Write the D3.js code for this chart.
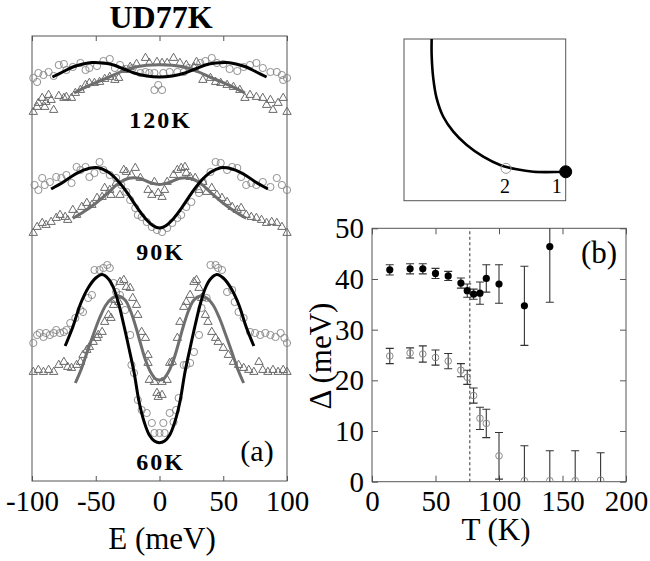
<!DOCTYPE html>
<html><head><meta charset="utf-8">
<script src="https://cdn.jsdelivr.net/npm/d3@7"></script>
<style>
body{margin:0;background:#fff}
svg{display:block}
text{font-family:"Liberation Serif","Times New Roman",serif;fill:#000}
</style>
</head><body>
<svg id="c" width="650" height="561"></svg>
<script>
// ---------------- DATA ----------------
// Panel (a): EDC-like spectra, energy E (meV) vs intensity (arb. units, offset per temperature)
const energyTicks = [-100, -50, 0, 50, 100];
const tempLabels = ["120K", "90K", "60K"];

// 120K
const circ120 = [[-99,402],[-96,398],[-95,407],[-91,405],[-87,408],[-83,404],[-79,415],[-75,416],[-73,410],[-68,413],[-62,417],[-58,410],[-55,412],[-49,414],[-44,419],[-39,421],[-35,412],[-31,415],[-26,411],[-21,412],[-15,407],[-11,408],[-8,407],[-4,407],[-4,390],[-1,395],[2,390],[3,407],[8,408],[14,408],[19,408],[23,412],[28,412],[32,417],[36,419],[41,422],[45,417],[50,416],[55,411],[61,409],[66,413],[71,415],[76,417],[81,412],[87,408],[92,408],[96,405],[97,400],[100,402]];
const tri120 = [[-99,368],[-96,373],[-95,377],[-92,382],[-90,373],[-89,378],[-87,385],[-85,380],[-83,370],[-79,384],[-75,382],[-73,383],[-69,382],[-66,387],[-62,390],[-58,395],[-55,397],[-51,397],[-47,398],[-43,401],[-39,403],[-35,400],[-32,402],[-28,410],[-23,413],[-18,416],[-11,422],[-8,417],[-2,418],[2,417],[6,417],[11,422],[16,417],[21,415],[27,413],[29,418],[34,400],[40,402],[44,398],[48,397],[53,395],[58,393],[63,390],[67,382],[71,385],[76,383],[81,382],[84,375],[87,380],[89,370],[93,377],[97,382],[100,368]];
const fitBlack120 = [[-84,403],[-76,408],[-68,413],[-60,416],[-53,417.5],[-44,417],[-36,415],[-28,411],[-20,407],[-10,404],[0,403],[10,404],[20,407],[28,411],[36,415],[44,417],[53,417.5],[60,416],[68,413],[76,408],[84,403]];
const fitGray120 = [[-67,387],[-60,391.7],[-50,397.3],[-40,402.7],[-30,408.3],[-20,412.7],[-10,414.7],[0,415.3],[10,414.7],[20,412.7],[30,408.3],[40,402.7],[50,397.3],[60,391.7],[67,387]];

// 90K
const circ90 = [[-98,295],[-95,290],[-92,302],[-90,295],[-86,298],[-81,303],[-77,302],[-73,305],[-69,297],[-65,313],[-62,310],[-58,313],[-55,303],[-51,307],[-47,318],[-44,310],[-39,305],[-34,302],[-30,295],[-26,288],[-23,280],[-19,272],[-17,265],[-14,263],[-10,258],[-6,253],[-2,250],[2,248],[6,252],[10,257],[14,262],[17,265],[21,273],[25,278],[31,287],[34,298],[40,308],[44,318],[48,317],[53,310],[57,313],[61,312],[64,303],[68,295],[72,297],[76,295],[81,298],[87,293],[92,302],[96,295],[100,290]];
const tri90 = [[-99,247],[-96,253],[-92,257],[-89,255],[-85,258],[-81,262],[-78,265],[-74,263],[-72,260],[-68,270],[-65,265],[-61,273],[-57,277],[-53,275],[-49,282],[-45,283],[-43,292],[-39,290],[-38,285],[-34,297],[-31,285],[-28,310],[-26,308],[-22,305],[-19,312],[-15,302],[-9,290],[-6,285],[-4,298],[-1,287],[2,283],[4,290],[6,298],[11,305],[14,310],[17,312],[20,313],[21,307],[24,303],[28,302],[31,290],[34,298],[37,288],[41,292],[45,285],[49,282],[53,278],[57,273],[61,270],[64,272],[68,265],[72,263],[76,262],[80,260],[84,257],[88,258],[92,257],[96,253],[100,247]];
const fitBlack90 = [[-85,291],[-75,298.3],[-65,306.7],[-55,311.7],[-48,312.3],[-40,307.7],[-32,298.3],[-25,286.7],[-18,273.3],[-10,260],[-5,254.3],[0,252],[5,254.3],[10,260],[18,273.3],[25,286.7],[32,298.3],[40,307.7],[48,312.3],[55,311.7],[65,306.7],[75,298.3],[85,291]];
const fitGray90 = [[-68,261.7],[-60,267.7],[-50,276.7],[-40,287.7],[-32,296.7],[-24,301.7],[-16,301.7],[-8,297.7],[0,295.5],[8,297.7],[16,301.7],[24,301.7],[32,296.7],[40,287.7],[50,276.7],[60,267.7],[68,261.7]];

// 60K
const circ60 = [[-99,137],[-96,145],[-94,147],[-91,143],[-89,147],[-86,145],[-83,147],[-81,150],[-78,147],[-75,148],[-73,150],[-70,157],[-66,162],[-62,170],[-60,168],[-56,182],[-53,185],[-51,210],[-47,210],[-44,212],[-41,215],[-39,212],[-36,197],[-34,188],[-31,185],[-27,170],[-23,145],[-22,115],[-20,107],[-17,80],[-14,70],[-10,67],[-6,57],[-4,47],[0,47],[3,57],[4,47],[8,67],[11,58],[13,70],[15,82],[19,115],[21,115],[24,117],[27,128],[31,145],[33,172],[37,182],[40,215],[44,215],[46,212],[49,210],[53,188],[57,190],[59,178],[62,168],[66,162],[71,148],[75,147],[79,145],[83,147],[87,145],[91,143],[95,147],[98,142],[100,137]];
const tri60 = [[-99,108],[-95,110],[-91,108],[-87,110],[-83,108],[-79,115],[-75,118],[-72,113],[-69,112],[-65,115],[-62,118],[-60,125],[-57,130],[-55,133],[-52,138],[-49,142],[-48,145],[-45,148],[-43,158],[-40,165],[-38,162],[-36,175],[-35,180],[-32,178],[-31,198],[-28,200],[-26,193],[-23,192],[-21,182],[-18,175],[-17,165],[-14,148],[-11,142],[-9,125],[-9,117],[-8,100],[-4,98],[-2,87],[-1,83],[2,85],[2,98],[6,100],[8,117],[10,118],[14,142],[16,158],[19,173],[21,178],[24,185],[27,198],[29,200],[31,192],[33,182],[36,165],[38,158],[41,148],[44,142],[46,138],[50,132],[54,125],[58,118],[62,115],[66,112],[70,110],[74,108],[78,118],[81,110],[85,108],[89,110],[93,108],[97,110],[100,108]];
const fitBlack60 = [[-74,134],[-68,153],[-62,176],[-56,192],[-50,202],[-45,205.5],[-40,201],[-36,192],[-32,176],[-28,155],[-24,132],[-20,108],[-16,78],[-12,58],[-8,45],[-4,39],[0,37.3],[4,39],[8,45],[12,58],[16,78],[20,108],[24,132],[28,155],[32,176],[36,192],[40,201],[45,205.5],[50,202],[56,192],[62,176],[68,153],[74,134]];
const fitGray60 = [[-66,97],[-61,112],[-57,127],[-52,145],[-47,162],[-42,175],[-37,182],[-32,184],[-27,180],[-23,170],[-19,155],[-15,137],[-11,120],[-7,108],[-3,101],[0,100],[3,101],[7,108],[11,120],[15,137],[19,155],[23,170],[27,180],[32,184],[37,182],[42,175],[47,162],[52,145],[57,127],[61,112],[66,97]];

// Panel (b): gap vs temperature
const tempTicks = [0, 50, 100, 150, 200];
const gapTicks = [0, 10, 20, 30, 40, 50];
const Tc = 77;
const tempsFilled = [14,30,40,50,60,70,75,80,85,90,100,120,140];
const gapFilled   = [41.8,42.0,42.0,41.1,40.6,39.2,37.7,37.0,37.2,40.1,39.0,34.7,46.4];
const errFilled   = [1.0,1.0,1.0,1.0,0.9,1.0,1.3,1.0,2.2,2.7,3.8,7.8,11.0];
const tempsOpen = [14,30,40,50,60,70,75,80,85,90,100,120,140,160,180];
const gapOpen   = [24.8,25.4,25.2,24.5,23.8,22.0,20.6,17.0,12.5,11.5,5.1,0.2,0.2,0.2,0.3];
const errOpen   = [1.5,1.0,1.6,1.5,1.5,1.3,1.4,1.5,2.2,2.8,4.6,6.9,5.9,5.9,5.4];

// Inset: Fermi surface contour (kx, ky in units of pi/a)
const fsKx = [0.171,0.171,0.181,0.202,0.243,0.305,0.388,0.490,0.594,0.697,0.800,1.0];
const fsKy = [1.0,0.901,0.757,0.633,0.519,0.427,0.344,0.272,0.221,0.194,0.179,0.179];
const kPoints = [{k:[1.0,0.179], label:"1", filled:true},{k:[0.631,0.200], label:"2", filled:false}];

// ---------------- DRAW ----------------
const svg = d3.select("#c");
const serif = '"Liberation Serif","Times New Roman",serif';

// ===== Panel (a) =====
const xA = d3.scaleLinear().domain([-100,100]).range([32,287]);
const yA = d3.scaleLinear().domain([0,444]).range([480,36]);
const gA = svg.append("g");

gA.append("rect").attr("x",xA(-100)).attr("y",yA(444)).attr("width",xA(100)-xA(-100)).attr("height",yA(-1)-yA(444))
  .attr("fill","none").attr("stroke","#555").attr("stroke-width",1);

const axA = gA.append("g").attr("transform",`translate(0,${yA(-1)})`)
  .call(d3.axisBottom(xA).tickValues(energyTicks).tickSize(-5).tickFormat(d=>String(d)));
axA.select(".domain").remove();
axA.selectAll("line").attr("stroke","#555");
axA.selectAll("text").attr("y",30).attr("dy",0).attr("font-size",29).attr("fill","#000");
const axAt = gA.append("g").attr("transform",`translate(0,${yA(444)})`)
  .call(d3.axisTop(xA).tickValues(energyTicks).tickSize(-5).tickFormat(""));
axAt.select(".domain").remove();
axAt.selectAll("line").attr("stroke","#555");

const lineA = d3.line().x(d=>xA(d[0])).y(d=>yA(d[1])).curve(d3.curveCatmullRom.alpha(0.5));
const triSym = d3.symbol().type(d3.symbolTriangle).size(30);

function spectrum(circ, tri, fitB, fitG){
  gA.append("g").selectAll("circle").data(circ).join("circle")
    .attr("cx",d=>xA(d[0])).attr("cy",d=>yA(d[1])).attr("r",3.6)
    .attr("fill","none").attr("stroke","#858585").attr("stroke-width",0.9);
  gA.append("g").selectAll("path").data(tri).join("path")
    .attr("d",triSym).attr("transform",d=>`translate(${xA(d[0])},${yA(d[1])})`)
    .attr("fill","none").attr("stroke","#6a6a6a").attr("stroke-width",1);
  gA.append("path").datum(fitG).attr("d",lineA).attr("fill","none").attr("stroke","#6e6e6e").attr("stroke-width",3);
  gA.append("path").datum(fitB).attr("d",lineA).attr("fill","none").attr("stroke","#000").attr("stroke-width",3);
}
spectrum(circ120, tri120, fitBlack120, fitGray120);
spectrum(circ90, tri90, fitBlack90, fitGray90);
spectrum(circ60, tri60, fitBlack60, fitGray60);

const labelY = [128, 260, 470];
tempLabels.forEach((t,i)=>{
  gA.append("text").attr("x",xA(0)+1).attr("y",labelY[i]).attr("text-anchor","middle")
    .attr("font-size",24).attr("font-weight","bold").attr("letter-spacing",2).text(t);
});
svg.append("text").attr("x",161).attr("y",28).attr("text-anchor","middle")
  .attr("font-size",32).attr("font-weight","bold").text("UD77K");
svg.append("text").attr("x",257).attr("y",461).attr("text-anchor","middle").attr("font-size",30).text("(a)");
svg.append("text").attr("x",162).attr("y",549).attr("text-anchor","middle").attr("font-size",31).text("E (meV)");

// ===== Panel (b) =====
const xB = d3.scaleLinear().domain([0,200]).range([372,626]);
const yB = d3.scaleLinear().domain([0,50]).range([481.7,228.3]);
const gB = svg.append("g");
svg.append("defs").append("clipPath").attr("id","clipB").append("rect")
  .attr("x",xB(0)).attr("y",yB(50)).attr("width",xB(200)-xB(0)).attr("height",yB(0)-yB(50));

gB.append("rect").attr("x",xB(0)).attr("y",yB(50)).attr("width",xB(200)-xB(0)).attr("height",yB(0)-yB(50))
  .attr("fill","none").attr("stroke","#555").attr("stroke-width",1);

function styleAxis(g){ g.select(".domain").remove(); g.selectAll("line").attr("stroke","#555");
  g.selectAll("text").attr("font-size",29).attr("fill","#000"); }
const bx = gB.append("g").attr("transform",`translate(0,${yB(0)})`)
  .call(d3.axisBottom(xB).tickValues(tempTicks).tickSize(-6).tickFormat(d=>String(d)));
styleAxis(bx); bx.selectAll("text").attr("y",29).attr("dy",0);
const bxt = gB.append("g").attr("transform",`translate(0,${yB(50)})`)
  .call(d3.axisTop(xB).tickValues(tempTicks).tickSize(-6).tickFormat(""));
styleAxis(bxt);
const by = gB.append("g").attr("transform",`translate(${xB(0)},0)`)
  .call(d3.axisLeft(yB).tickValues(gapTicks).tickSize(-6).tickFormat(d=>String(d)));
styleAxis(by); by.selectAll("text").attr("x",-8).attr("dy",0).attr("y",9.5);
const byr = gB.append("g").attr("transform",`translate(${xB(200)},0)`)
  .call(d3.axisRight(yB).tickValues(gapTicks).tickSize(-6).tickFormat(""));
styleAxis(byr);

gB.append("line").attr("x1",xB(Tc)).attr("x2",xB(Tc)).attr("y1",yB(0)).attr("y2",yB(50))
  .attr("stroke","#555").attr("stroke-width",1.2).attr("stroke-dasharray","3,2.5");

const plotB = gB.append("g").attr("clip-path","url(#clipB)");
function errorBars(T, G, E){
  const d = T.map((t,i)=>({t, g:G[i], e:E[i]}));
  const g = plotB.append("g").attr("stroke","#333").attr("stroke-width",1.1);
  g.selectAll(".v").data(d).join("line").attr("x1",p=>xB(p.t)).attr("x2",p=>xB(p.t))
    .attr("y1",p=>yB(p.g-p.e)).attr("y2",p=>yB(p.g+p.e));
  g.selectAll(".t").data(d).join("line").attr("x1",p=>xB(p.t)-4).attr("x2",p=>xB(p.t)+4)
    .attr("y1",p=>yB(p.g+p.e)).attr("y2",p=>yB(p.g+p.e));
  g.selectAll(".b").data(d).join("line").attr("x1",p=>xB(p.t)-4).attr("x2",p=>xB(p.t)+4)
    .attr("y1",p=>yB(p.g-p.e)).attr("y2",p=>yB(p.g-p.e));
  return d;
}
const dOpen = errorBars(tempsOpen, gapOpen, errOpen);
const dFill = errorBars(tempsFilled, gapFilled, errFilled);
plotB.append("g").selectAll("circle").data(dOpen).join("circle")
  .attr("cx",p=>xB(p.t)).attr("cy",p=>yB(p.g)).attr("r",3.3)
  .attr("fill","none").attr("stroke","#8a8a8a").attr("stroke-width",1);
plotB.append("g").selectAll("circle").data(dFill).join("circle")
  .attr("cx",p=>xB(p.t)).attr("cy",p=>yB(p.g)).attr("r",3.6).attr("fill","#000");

svg.append("text").attr("x",599).attr("y",263).attr("text-anchor","middle").attr("font-size",31).text("(b)");
svg.append("text").attr("x",496).attr("y",540).attr("text-anchor","middle").attr("font-size",31).text("T (K)");
svg.append("text").attr("transform","translate(331,356) rotate(-90)").attr("text-anchor","middle")
  .attr("font-size",31).text("Δ (meV)");

// ===== Inset =====
const xI = d3.scaleLinear().domain([0,1]).range([404,565.7]);
const yI = d3.scaleLinear().domain([0,1]).range([200.7,39]);
const gI = svg.append("g");
gI.append("rect").attr("x",xI(0)).attr("y",yI(1)).attr("width",xI(1)-xI(0)).attr("height",yI(0)-yI(1))
  .attr("fill","none").attr("stroke","#555").attr("stroke-width",1);
const fs = fsKx.map((k,i)=>[k, fsKy[i]]);
gI.append("path").datum(fs).attr("fill","none").attr("stroke","#000").attr("stroke-width",2.6)
  .attr("d", d3.line().x(d=>xI(d[0])).y(d=>yI(d[1])).curve(d3.curveCatmullRom.alpha(0.5)));
kPoints.forEach(p=>{
  gI.append("circle").attr("cx",xI(p.k[0])).attr("cy",yI(p.k[1])).attr("r",p.filled?6:5)
    .attr("fill",p.filled?"#000":"none").attr("stroke",p.filled?"#000":"#999").attr("stroke-width",1);
  gI.append("text").attr("x",xI(p.k[0])-(p.filled?9:1)).attr("y",193).attr("text-anchor","middle")
    .attr("font-size",20).text(p.label);
});

// force serif face on every text (overrides d3 axis defaults)
svg.selectAll("text").style("font-family", serif);
</script>
</body></html>
